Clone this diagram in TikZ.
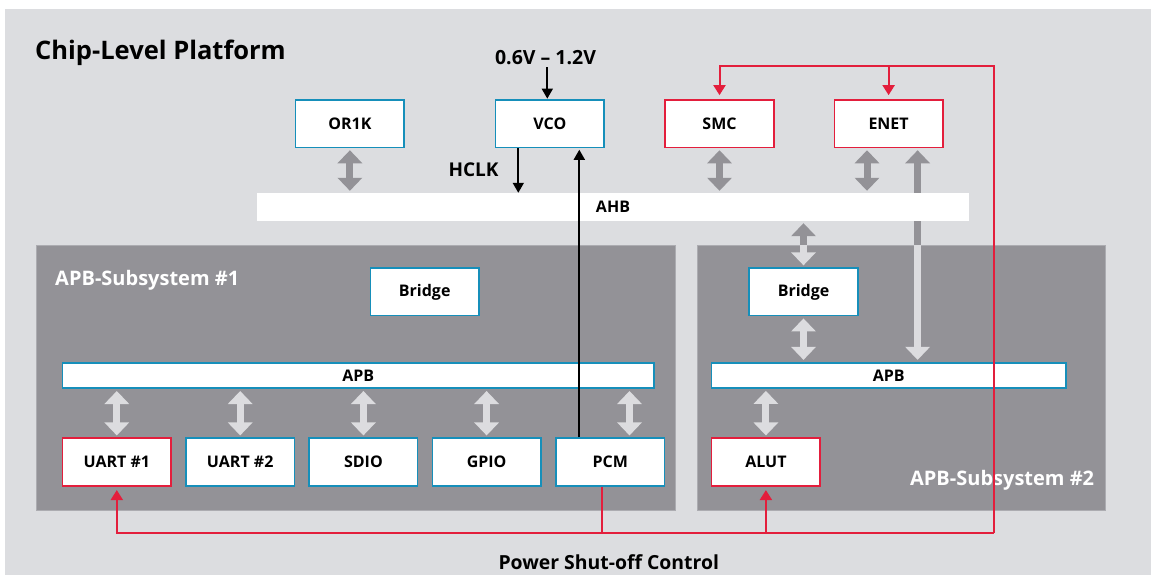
\documentclass[tikz,border=0pt]{standalone}
\usepackage{fontspec}
\setmainfont{Open Sans}
\usetikzlibrary{arrows.meta,calc}
\definecolor{bgc}{RGB}{220,221,224}
\definecolor{subc}{RGB}{147,146,151}
\definecolor{subedge}{RGB}{172,172,177}
\definecolor{arrdark}{RGB}{147,146,151}
\definecolor{arrlite}{RGB}{220,220,223}
\definecolor{cblue}{RGB}{22,143,186}
\definecolor{cred}{RGB}{227,30,60}
\newcommand\bxfont{\fontsize{16}{18}\selectfont\bfseries}
\newcommand\ttlfont{\fontsize{25.5}{28}\selectfont\bfseries}
\newcommand\subfont{\fontsize{20}{24}\selectfont\bfseries}
\newcommand\lblfont{\fontsize{19}{24}\selectfont\bfseries}
\newcommand\pscfont{\fontsize{19.4}{24}\selectfont\bfseries}
\newcommand\voltfont{\fontsize{19.5}{22}\selectfont\bfseries}
\pgfdeclarelayer{back}
\pgfdeclarelayer{arr}
\pgfdeclarelayer{bus}
\pgfdeclarelayer{arrl}
\pgfsetlayers{back,arr,bus,arrl,main}
\tikzset{
  box/.style={draw=cblue, fill=white, line width=1.6pt, minimum width=108.5pt,
    minimum height=47.5pt, inner sep=0pt, font=\bxfont},
  redbox/.style={box, draw=cred},
  apbbar/.style={draw=cblue, fill=white, line width=1.6pt, minimum height=25.4pt,
    inner sep=0pt, font=\bxfont},
  subsys/.style={fill=subc, draw=subedge, line width=0.8pt, inner sep=0pt},
  busarr/.style={line width=7pt, shorten <=2pt, shorten >=2pt,
    {Triangle[width=24pt,length=13pt]}-{Triangle[width=24pt,length=13pt]}},
  blk/.style={draw=black, line width=1.7pt, -{Triangle[width=11pt,length=10pt]}},
  redl/.style={draw=cred, line width=2pt},
  redarr/.style={redl, -{Triangle[width=12pt,length=10pt]}},
  txt/.style={inner sep=0pt}
}
\newcommand\drawbusarrows[1]{%
  \draw[busarr,color=#1] (OR1K.south) -- (OR1K.south |- AHB.north);
  \draw[busarr,color=#1] (SMC.south) -- (SMC.south |- AHB.north);
  \draw[busarr,color=#1] (e1) -- (e1 |- AHB.north);
  \draw[busarr,color=#1] (e2) -- (e2 |- APBb.north);
  \draw[busarr,color=#1] (BRb.north |- AHB.south) -- (BRb.north);
  \draw[busarr,color=#1] (BRb.south) -- (BRb.south |- APBb.north);
  \draw[busarr,color=#1] (ALUT.north |- APBb.south) -- (ALUT.north);
  \draw[busarr,color=#1] (U1.north |- APBa.south) -- (U1.north);
  \draw[busarr,color=#1] (U2.north |- APBa.south) -- (U2.north);
  \draw[busarr,color=#1] (SDIO.north |- APBa.south) -- (SDIO.north);
  \draw[busarr,color=#1] (GPIO.north |- APBa.south) -- (GPIO.north);
  \draw[busarr,color=#1] (pa |- APBa.south) -- (pa);
}
\begin{document}
\begin{tikzpicture}[x=1pt,y=-1pt]
\useasboundingbox (0,0) rectangle (1151,575);
\begin{pgfonlayer}{back}
  \fill[white] (0,0) rectangle (1151,575);
  \fill[bgc] (5,9) rectangle (1151,575);
  \node[subsys, minimum width=638.5pt, minimum height=265pt] (S1) at (355.75,378) {};
  \node[subsys, minimum width=408pt, minimum height=265pt] (S2) at (901.3,378) {};
\end{pgfonlayer}
\begin{pgfonlayer}{bus}
  \node[fill=white, inner sep=0pt, minimum width=712pt, minimum height=28pt, font=\bxfont] (AHB) at (613,207) {AHB};
\end{pgfonlayer}
% top row
\node[box] (OR1K) at (349.9,123.7) {OR1K};
\node[box] (VCO) at (549.9,123.7) {VCO};
\node[redbox] (SMC) at (719.5,123.7) {SMC};
\node[redbox] (ENET) at (888.6,123.7) {ENET};
% bridges
\node[box] (BRa) at (424.7,291.9) {Bridge};
\node[box] (BRb) at (803.5,291.9) {Bridge};
% APB bars
\node[apbbar, minimum width=591.8pt] (APBa) at (358.3,375.5) {APB};
\node[apbbar, minimum width=354.4pt] (APBb) at (888.7,375.4) {APB};
% peripherals
\node[redbox] (U1) at (116.8,462) {UART \#1};
\node[box] (U2) at (240.2,462) {UART \#2};
\node[box] (SDIO) at (363.4,462) {SDIO};
\node[box] (GPIO) at (486.6,462) {GPIO};
\node[box] (PCM) at (610.3,462) {PCM};
\node[redbox] (ALUT) at (765.9,462) {ALUT};
% texts
\node[txt, anchor=base west, font=\ttlfont] (title) at (35,60) {Chip-Level Platform};
\node[txt, anchor=base, font=\voltfont] (V) at (545.5,64.3) {0.6V – 1.2V};
\node[txt, anchor=base west, font=\lblfont] (HCLK) at (448.3,176.7) {HCLK};
\node[txt, anchor=base west, font=\subfont, text=white] (s1t) at (55,285) {APB-Subsystem \#1};
\node[txt, anchor=base east, font=\subfont, text=white] (s2t) at (1094.3,485.7) {APB-Subsystem \#2};
\node[txt, anchor=base west, font=\pscfont] (PSC) at (498.3,569) {Power Shut-off Control};
% helper coordinates
\coordinate (e1) at ($(ENET.south)+(-21.6,0)$);
\coordinate (e2) at ($(ENET.south)+(29,0)$);
\coordinate (pa) at ($(PCM.north)+(19.2,0)$);
\coordinate (vin) at ($(VCO.north)+(-2.6,0)$);
\coordinate (hc) at ($(VCO.south)+(-31.6,0)$);
\coordinate (pu) at ($(PCM.north)+(-31,0)$);
\coordinate (pr) at ($(PCM.south)+(-8.6,0)$);
\coordinate (rc) at (993.6,532.7);
\coordinate (rt) at (993.6,65.7);
% bus arrows
\begin{pgfonlayer}{arr}
  \drawbusarrows{arrdark}
\end{pgfonlayer}
\begin{pgfonlayer}{arrl}
  \begin{scope}
    \clip (S1.north west) rectangle (S1.south east) (S2.north west) rectangle (S2.south east);
    \drawbusarrows{arrlite}
  \end{scope}
\end{pgfonlayer}
% black signals
\draw[blk, shorten <=2.4pt, shorten >=0.5pt] (vin |- V.south) -- (vin);
\draw[blk] (hc) -- (hc |- AHB.north);
\draw[blk, shorten >=1.5pt] (pu) -- (pu |- VCO.south);
% red power shut-off lines
\draw[redarr, shorten >=4pt] (rc) -- (rt) -| (SMC.north);
\draw[redarr, shorten >=4pt] (ENET.north |- rt) -- (ENET.north);
\draw[redl] (pr) -- (pr |- rc);
\draw[redarr, shorten >=3.5pt] (rc) -| (U1.south);
\draw[redarr, shorten >=3.5pt] (ALUT.south |- rc) -- (ALUT.south);
\end{tikzpicture}
\end{document}
